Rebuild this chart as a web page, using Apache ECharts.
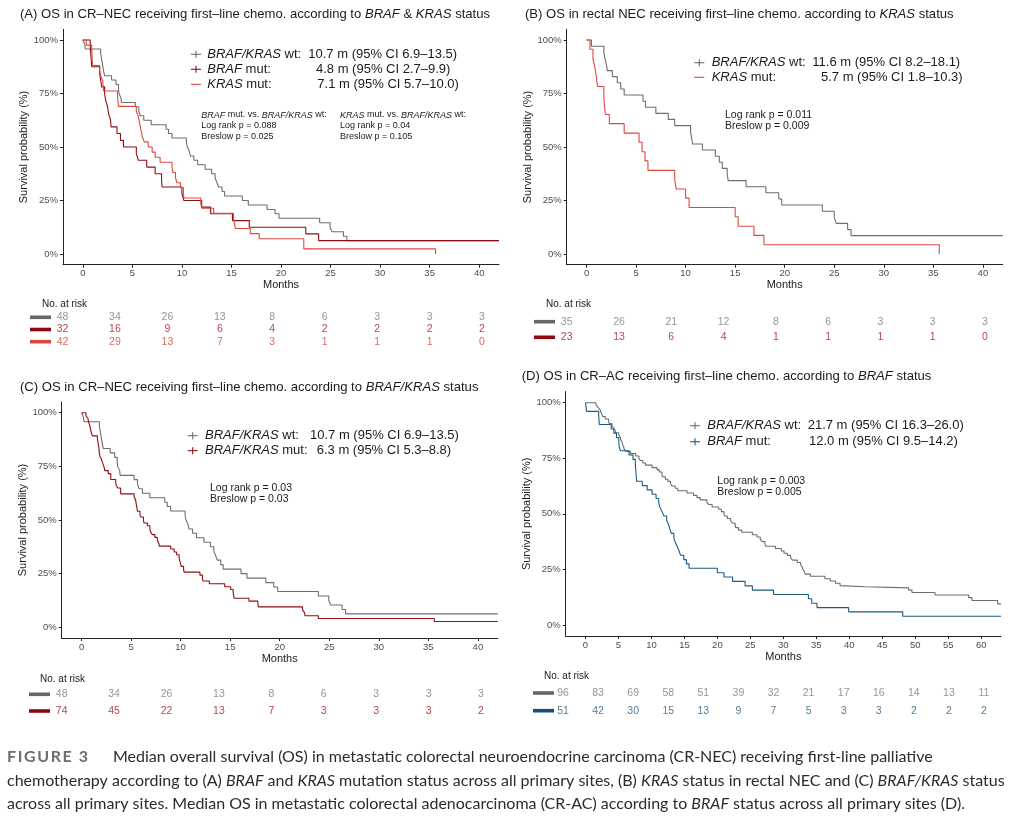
<!DOCTYPE html>
<html>
<head>
<meta charset="utf-8">
<script src="https://cdn.jsdelivr.net/npm/echarts@6.0.0/dist/echarts.min.js"></script>
<style>
  html, body { margin: 0; padding: 0; background: #fff; }
  #chart { width: 1012px; height: 817px; }
</style>
</head>
<body>
<div id="chart"></div>
<script>
// ---- data: [month, survival probability] ----
const monthsNEC = [0, 5, 10, 15, 20, 25, 30, 35, 40];
const monthsAC = [0, 5, 10, 15, 20, 25, 30, 35, 40, 45, 50, 55, 60];
const survTicks = [0, 0.25, 0.5, 0.75, 1];

// CR-NEC, BRAF/KRAS wild type (n = 48), panels A and C
const wtNEC = [[0,1],[0.2,0.979],[0.25,0.958],[1.8,0.938],[1.95,0.896],[2.1,0.854],[2.2,0.833],[2.9,0.813],
  [3.35,0.792],[3.6,0.771],[3.65,0.75],[3.85,0.729],[3.9,0.708],[5.3,0.688],[5.65,0.667],[5.8,0.646],
  [6.15,0.625],[6.9,0.604],[8.4,0.583],[8.65,0.563],[9.0,0.542],[10.45,0.521],[10.55,0.5],[10.75,0.479],
  [10.85,0.458],[11.2,0.438],[11.6,0.417],[12.35,0.396],[13.0,0.375],[13.35,0.354],[13.55,0.333],
  [13.7,0.313],[14.05,0.292],[14.3,0.271],[16.1,0.25],[16.7,0.229],[18.6,0.208],[19.4,0.188],[19.8,0.167],
  [23.9,0.146],[24.95,0.125],[25.15,0.104],[26.3,0.083],[26.65,0.0625],[42,0.0625]];
// CR-NEC, BRAF mutated (n = 32), panel A
const brafMutNEC = [[0,1],[0.75,0.969],[0.8,0.938],[0.9,0.875],[1.7,0.844],[1.8,0.813],[1.9,0.781],
  [2.2,0.75],[2.3,0.719],[2.5,0.688],[2.6,0.656],[2.8,0.625],[2.85,0.594],[3.45,0.563],[3.8,0.531],
  [4.1,0.5],[5.4,0.469],[5.6,0.438],[6.45,0.406],[7.3,0.375],[7.95,0.344],[8.0,0.313],[10.0,0.281],
  [10.2,0.25],[12.0,0.219],[12.9,0.188],[15.1,0.156],[16.8,0.125],[22.5,0.094],[23.8,0.0625],[42,0.0625]];
// CR-NEC, KRAS mutated (n = 42), panel A
const krasMutNEC = [[0,1],[0.35,0.976],[0.9,0.952],[0.95,0.905],[1.0,0.881],[1.7,0.857],[1.8,0.833],
  [2.0,0.81],[2.1,0.762],[3.5,0.738],[3.55,0.714],[3.6,0.69],[5.4,0.667],[5.6,0.643],[5.7,0.619],
  [5.8,0.595],[5.9,0.571],[6.0,0.548],[6.2,0.524],[6.6,0.5],[7.0,0.476],[7.3,0.452],[7.8,0.429],
  [9.0,0.405],[9.1,0.381],[9.35,0.357],[9.5,0.333],[9.85,0.31],[10.15,0.286],[10.2,0.262],[11.9,0.238],
  [12.0,0.214],[13.2,0.19],[15.2,0.167],[15.3,0.143],[15.4,0.119],[16.9,0.095],[17.8,0.071],
  [22.3,0.024],[35.6,0]];
// rectal NEC, BRAF/KRAS wild type (n = 35), panel B
const wtRectal = [[0,1],[0.5,0.971],[1.75,0.943],[1.85,0.914],[2.0,0.886],[2.1,0.857],[2.6,0.829],
  [3.1,0.8],[3.45,0.771],[3.8,0.743],[5.7,0.714],[5.95,0.686],[7.0,0.657],[8.25,0.629],[8.9,0.6],
  [10.5,0.571],[10.6,0.543],[10.7,0.514],[11.7,0.486],[13.0,0.457],[13.4,0.429],[13.7,0.4],
  [14.2,0.371],[14.3,0.343],[16.1,0.314],[18.1,0.286],[19.4,0.257],[19.7,0.229],[23.8,0.2],
  [25.0,0.171],[25.2,0.143],[26.35,0.114],[26.7,0.086],[42,0.086]];
// rectal NEC, KRAS mutated (n = 23), panel B
const krasMutRectal = [[0,1],[0.35,0.957],[0.65,0.913],[0.85,0.87],[1.0,0.826],[1.1,0.783],
  [1.75,0.739],[1.8,0.696],[1.9,0.652],[2.3,0.609],[3.8,0.565],[5.3,0.522],[5.6,0.478],[5.9,0.435],
  [6.2,0.391],[8.9,0.348],[9.05,0.304],[10.0,0.261],[10.35,0.217],[15.0,0.174],[15.3,0.13],
  [16.9,0.087],[17.9,0.043],[35.6,0]];
// CR-NEC, BRAF or KRAS mutated (n = 74), panel C
const mutNEC = [[0,1],[0.45,0.986],[0.65,0.973],[0.7,0.959],[0.8,0.946],[0.87,0.932],[1.0,0.905],
  [1.1,0.892],[1.6,0.878],[1.65,0.865],[1.75,0.838],[1.8,0.811],[1.85,0.797],[2.0,0.784],[2.1,0.77],
  [2.3,0.743],[2.35,0.73],[2.7,0.716],[2.95,0.689],[3.45,0.676],[3.5,0.662],[3.65,0.649],[3.95,0.622],
  [5.3,0.608],[5.45,0.595],[5.5,0.581],[5.6,0.554],[5.65,0.541],[5.9,0.527],[5.95,0.514],[6.25,0.5],
  [6.3,0.486],[6.65,0.473],[6.9,0.459],[6.95,0.446],[7.15,0.432],[7.4,0.419],[7.65,0.405],[7.8,0.392],
  [7.85,0.378],[9.0,0.365],[9.35,0.351],[9.6,0.338],[9.85,0.324],[9.9,0.311],[10.0,0.297],
  [10.05,0.284],[10.3,0.27],[10.35,0.257],[11.95,0.243],[12.2,0.23],[12.25,0.216],[12.9,0.203],
  [14.45,0.189],[15.05,0.176],[15.3,0.162],[15.35,0.149],[15.4,0.135],[16.9,0.122],[17.8,0.108],
  [17.85,0.095],[22.3,0.081],[22.5,0.068],[22.55,0.054],[23.9,0.041],[35.6,0.027],[42,0.027]];
// CR-AC, BRAF/KRAS wild type (n = 96), panel D
const wtAC = [[0,1],[1.6,0.99],[1.9,0.979],[2.2,0.969],[2.3,0.958],[2.5,0.948],[2.6,0.938],[3.0,0.927],
  [3.5,0.917],[3.6,0.906],[4.0,0.896],[4.3,0.885],[4.5,0.875],[4.55,0.865],[5.05,0.854],[5.3,0.844],
  [5.35,0.833],[5.55,0.823],[5.6,0.813],[5.8,0.802],[5.85,0.792],[6.15,0.781],[6.8,0.771],[7.6,0.76],
  [8.1,0.75],[8.3,0.74],[8.7,0.729],[9.1,0.719],[10.1,0.708],[10.85,0.698],[11.2,0.688],[11.6,0.677],
  [11.65,0.667],[12.1,0.656],[12.5,0.646],[12.9,0.635],[13.1,0.625],[13.6,0.615],[14.0,0.604],
  [15.4,0.594],[16.4,0.583],[16.9,0.573],[17.4,0.563],[18.4,0.552],[18.7,0.542],[19.2,0.531],
  [20.2,0.521],[20.6,0.51],[21.0,0.5],[21.1,0.49],[21.5,0.479],[22.0,0.469],[22.3,0.458],[22.7,0.448],
  [22.75,0.438],[23.2,0.427],[23.7,0.417],[25.3,0.406],[26.0,0.396],[26.5,0.385],[26.8,0.375],
  [27.2,0.365],[27.3,0.354],[28.8,0.344],[29.7,0.333],[30.1,0.323],[30.6,0.313],[31.1,0.302],
  [31.4,0.292],[32.1,0.281],[32.6,0.271],[32.9,0.26],[32.95,0.25],[33.2,0.24],[33.3,0.229],
  [34.1,0.219],[36.3,0.208],[37.1,0.198],[37.9,0.188],[38.6,0.177],[38.9,0.172],[42.4,0.167],
  [49.0,0.157],[49.5,0.146],[53.0,0.135],[58.1,0.123],[58.6,0.11],[62.5,0.095],[63,0.095]];
// CR-AC, BRAF mutated (n = 51), panel D
const brafMutAC = [[0,1],[0.1,0.98],[0.15,0.961],[2.0,0.941],[2.05,0.922],[2.1,0.902],[3.9,0.882],
  [4.3,0.863],[4.7,0.843],[5.05,0.824],[5.1,0.804],[5.3,0.784],[6.6,0.765],[7.2,0.745],[7.55,0.725],
  [7.6,0.706],[7.65,0.686],[7.7,0.667],[7.75,0.647],[8.6,0.627],[9.35,0.608],[10.1,0.588],[10.7,0.569],
  [11.1,0.549],[11.3,0.529],[11.6,0.51],[11.9,0.49],[12.3,0.471],[12.6,0.451],[12.8,0.431],[13.0,0.412],
  [13.4,0.392],[13.6,0.373],[13.9,0.353],[14.2,0.333],[14.4,0.314],[14.9,0.294],[15.3,0.275],
  [15.7,0.255],[20.0,0.235],[21.0,0.216],[22.3,0.196],[24.2,0.176],[25.3,0.157],[28.5,0.137],
  [33.8,0.118],[34.3,0.098],[35.1,0.078],[39.9,0.059],[48.1,0.039],[63,0.039]];

// numbers at risk
const riskA = [[48,34,26,13,8,6,3,3,3], [32,16,9,6,4,2,2,2,2], [42,29,13,7,3,1,1,1,0]];
const riskB = [[35,26,21,12,8,6,3,3,3], [23,13,6,4,1,1,1,1,0]];
const riskC = [[48,34,26,13,8,6,3,3,3], [74,45,22,13,7,3,3,3,2]];
const riskD = [[96,83,69,58,51,39,32,21,17,16,14,13,11], [51,42,30,15,13,9,7,5,3,3,2,2,2]];

const F = 'Liberation Sans, Arial, Helvetica, sans-serif';
const GRAY = '#6e6e6e', DARKRED = '#8e0d12', RED = '#e0473f', BLUE = '#1d5a84';
const INK = '#1a1a1a';

// plot grids: A, B, C, D ; risk table grids: A, B, C, D
const plotGrids = [
  { left: 63, top: 29.3, width: 436, height: 235.4, min: -2, max: 42, ticks: monthsNEC },
  { left: 566.7, top: 29.3, width: 436, height: 235.4, min: -2, max: 42, ticks: monthsNEC },
  { left: 61.7, top: 402, width: 436, height: 236, min: -2, max: 42, ticks: monthsNEC },
  { left: 565.7, top: 391.6, width: 435.3, height: 244.5, min: -3, max: 63, ticks: monthsAC }
];
const riskGrids = [
  { left: 62.5, top: 317.3, width: 419.5, height: 24.4, max: 40, rows: 3 },
  { left: 566.7, top: 321.7, width: 418.3, height: 15.6, max: 40, rows: 2 },
  { left: 61.7, top: 694.3, width: 419.3, height: 16.7, max: 40, rows: 2 },
  { left: 563, top: 693, width: 421, height: 17.7, max: 60, rows: 2 }
];

const grid = [], xAxis = [], yAxis = [];
plotGrids.forEach(function (g, i) {
  grid.push({ left: g.left, top: g.top, width: g.width, height: g.height });
  xAxis.push({
    type: 'value', gridIndex: i, min: g.min, max: g.max,
    splitLine: { show: false },
    axisLine: { onZero: false, lineStyle: { color: '#222', width: 1 } },
    axisTick: { customValues: g.ticks, length: 3, lineStyle: { color: '#222' } },
    axisLabel: { customValues: g.ticks, color: '#4d4d4d', fontSize: 9.5, fontFamily: F, margin: 4 },
    name: 'Months', nameLocation: 'middle', nameGap: 15,
    nameTextStyle: { color: INK, fontSize: 11, fontFamily: F }
  });
  yAxis.push({
    type: 'value', gridIndex: i, min: -0.05, max: 1.05,
    splitLine: { show: false },
    axisLine: { onZero: false, lineStyle: { color: '#222', width: 1 } },
    axisTick: { customValues: survTicks, length: 3, lineStyle: { color: '#222' } },
    axisLabel: { customValues: survTicks, color: '#4d4d4d', fontSize: 9.5, fontFamily: F, margin: 5,
      formatter: function (v) { return Math.round(v * 100) + '%'; } },
    name: 'Survival probability (%)', nameLocation: 'middle', nameGap: 29,
    nameTextStyle: { color: INK, fontSize: 11, fontFamily: F }
  });
});
riskGrids.forEach(function (g, i) {
  grid.push({ left: g.left, top: g.top, width: g.width, height: g.height });
  xAxis.push({ type: 'value', gridIndex: 4 + i, min: 0, max: g.max, show: false });
  yAxis.push({ type: 'value', gridIndex: 4 + i, min: 0, max: g.rows - 1, inverse: true, show: false });
});

function km(idx, data, color) {
  return {
    type: 'line', xAxisIndex: idx, yAxisIndex: idx, data: data, step: 'end',
    showSymbol: false, silent: true, lineStyle: { color: color, width: 1.1 }, itemStyle: { color: color }
  };
}
function riskRows(idx, rows, times, colors) {
  return rows.map(function (vals, r) {
    return {
      type: 'scatter', xAxisIndex: idx, yAxisIndex: idx, silent: true, symbolSize: 1,
      itemStyle: { color: 'transparent' },
      label: { show: true, position: 'inside', color: colors[r], fontSize: 10.5, fontFamily: F,
        formatter: function (p) { return p.value[2]; } },
      data: vals.map(function (n, k) { return [times[k], r, n]; })
    };
  });
}

const series = [
  km(0, wtNEC, GRAY), km(0, brafMutNEC, DARKRED), km(0, krasMutNEC, RED),
  km(1, wtRectal, GRAY), km(1, krasMutRectal, RED),
  km(2, wtNEC, GRAY), km(2, mutNEC, DARKRED),
  km(3, wtAC, GRAY), km(3, brafMutAC, BLUE)
].concat(
  riskRows(4, riskA, monthsNEC, ['#7a7a7a', '#a3141b', '#d4463d']),
  riskRows(5, riskB, monthsNEC, ['#7a7a7a', '#a3141b']),
  riskRows(6, riskC, monthsNEC, ['#7a7a7a', '#a3141b']),
  riskRows(7, riskD, monthsAC, ['#7a7a7a', '#2b5a7a'])
);

// ---- texts and keys ----
const graphic = [];
function richText(x, y, text, size, color, family, extraRich) {
  const fam = family || F;
  const rich = {
    i: { fontStyle: 'italic', fontSize: size, fontFamily: fam, fill: color },
    b: { fontWeight: 'bold', fontSize: size, fontFamily: fam, fill: '#6d6d6d', padding: [0, 1.6, 0, 0] }
  };
  graphic.push({
    type: 'text', x: x, y: y, silent: true,
    style: { text: text, fill: color, fontSize: size, fontFamily: fam, align: 'left',
      verticalAlign: 'middle', rich: Object.assign(rich, extraRich || {}) }
  });
}
function legendRow(px, y, color, plus, tx, label, vx, value) {
  graphic.push({ type: 'line', silent: true, shape: { x1: px - 5, y1: y, x2: px + 5, y2: y },
    style: { stroke: color, lineWidth: 1.1 } });
  if (plus) {
    graphic.push({ type: 'line', silent: true, shape: { x1: px, y1: y - 3.5, x2: px, y2: y + 3.5 },
      style: { stroke: color, lineWidth: 1.1 } });
  }
  richText(tx, y, label, 13, INK);
  richText(vx, y, value, 13, INK);
}
function riskKey(x, y, color) {
  graphic.push({ type: 'rect', silent: true, shape: { x: x, y: y - 1.8, width: 21, height: 3.6 },
    style: { fill: color } });
}

// panel A
richText(20, 14, '(A) OS in CR\u2013NEC receiving first\u2013line chemo. according to {i|BRAF} & {i|KRAS} status', 13.1, INK);
legendRow(196, 54.3, GRAY, true, 207.3, '{i|BRAF/KRAS} wt:', 308.3, '10.7 m (95% CI 6.9\u201313.5)');
legendRow(196, 69.3, DARKRED, true, 207.3, '{i|BRAF} mut:', 316, '4.8 m (95% CI 2.7\u20139.9)');
legendRow(196, 84.3, RED, false, 207.3, '{i|KRAS} mut:', 317.3, '7.1 m (95% CI 5.7\u201310.0)');
richText(201.3, 115, '{i|BRAF} mut. vs. {i|BRAF/KRAS} wt:', 9, INK);
richText(201.3, 126, 'Log rank p = 0.088', 9, INK);
richText(201.3, 136.5, 'Breslow p = 0.025', 9, INK);
richText(340, 115, '{i|KRAS} mut. vs. {i|BRAF/KRAS} wt:', 9, INK);
richText(340, 126, 'Log rank p = 0.04', 9, INK);
richText(340, 136.5, 'Breslow p = 0.105', 9, INK);
richText(42, 304.7, 'No. at risk', 10, INK);
riskKey(30, 317.3, '#666666'); riskKey(30, 329.5, '#8b0a0f'); riskKey(30, 341.7, '#d9473c');

// panel B
richText(525, 14, '(B) OS in rectal NEC receiving first\u2013line chemo. according to {i|KRAS} status', 13.1, INK);
legendRow(699.3, 62.7, GRAY, true, 711.7, '{i|BRAF/KRAS} wt:', 812.3, '11.6 m (95% CI 8.2\u201318.1)');
legendRow(699.3, 77.3, RED, false, 711.7, '{i|KRAS} mut:', 821, '5.7 m (95% CI 1.8\u201310.3)');
richText(725, 115, 'Log rank p = 0.011', 10.5, INK);
richText(725, 126, 'Breslow p = 0.009', 10.5, INK);
richText(546, 304.7, 'No. at risk', 10, INK);
riskKey(534, 321.7, '#666666'); riskKey(534, 337.3, '#8b0a0f');

// panel C
richText(20, 387.3, '(C) OS in CR\u2013NEC receiving first\u2013line chemo. according to {i|BRAF/KRAS} status', 13.1, INK);
legendRow(192.7, 435.7, GRAY, true, 205, '{i|BRAF/KRAS} wt:', 310, '10.7 m (95% CI 6.9\u201313.5)');
legendRow(192.7, 450.7, DARKRED, true, 205, '{i|BRAF/KRAS} mut:', 316.7, '6.3 m (95% CI 5.3\u20138.8)');
richText(210, 488.3, 'Log rank p = 0.03', 10.5, INK);
richText(210, 499.3, 'Breslow p = 0.03', 10.5, INK);
richText(40, 679, 'No. at risk', 10, INK);
riskKey(29, 694.3, '#666666'); riskKey(29, 711, '#8b0a0f');

// panel D
richText(521.7, 376.7, '(D) OS in CR\u2013AC receiving first\u2013line chemo. according to {i|BRAF} status', 13.1, INK);
legendRow(695, 425.7, GRAY, true, 707.3, '{i|BRAF/KRAS} wt:', 807.7, '21.7 m (95% CI 16.3\u201326.0)');
legendRow(695, 441.7, BLUE, true, 707.3, '{i|BRAF} mut:', 809, '12.0 m (95% CI 9.5\u201314.2)');
richText(717.3, 481, 'Log rank p = 0.003', 10.5, INK);
richText(717.3, 492, 'Breslow p = 0.005', 10.5, INK);
richText(544, 676, 'No. at risk', 10, INK);
riskKey(533, 693, '#666666'); riskKey(533, 710.7, '#1b4f7a');

// caption
const CAP = 'Lato, Open Sans, sans-serif';
const CAPINK = '#2b2b2b';
richText(7, 757, '{b|F}{b|I}{b|G}{b|U}{b|R}{b|E}{b| }{b|3}', 16, CAPINK, CAP);
richText(113, 757, 'Median overall survival (OS) in metastatic colorectal neuroendocrine carcinoma (CR-NEC) receiving first-line palliative', 16, CAPINK, CAP);
richText(7, 780.5, 'chemotherapy according to (A) {i|BRAF} and {i|KRAS} mutation status across all primary sites, (B) {i|KRAS} status in rectal NEC and (C) {i|BRAF/KRAS} status', 16, CAPINK, CAP);
richText(7, 803.5, 'across all primary sites. Median OS in metastatic colorectal adenocarcinoma (CR-AC) according to {i|BRAF} status across all primary sites (D).', 16, CAPINK, CAP);

const chart = echarts.init(document.getElementById('chart'), null, { renderer: 'canvas' });
chart.setOption({
  animation: false,
  backgroundColor: '#ffffff',
  grid: grid,
  xAxis: xAxis,
  yAxis: yAxis,
  series: series,
  graphic: graphic
});
</script>
</body>
</html>
